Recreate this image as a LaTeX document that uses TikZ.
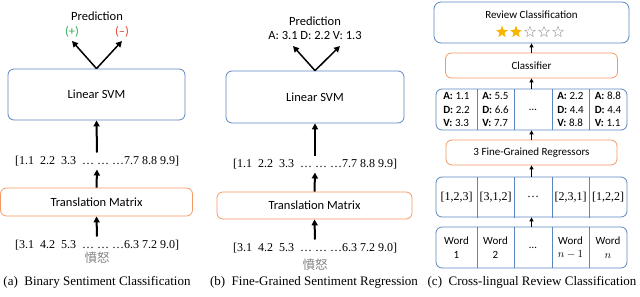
\documentclass[tikz,border=0pt]{standalone}
\usepackage{fontspec}
\setmainfont{Liberation Serif}
\newfontfamily\boxfont{Carlito}
\newfontfamily\cjkfont{Noto Sans CJK TC}
\usetikzlibrary{arrows.meta,positioning,shapes.geometric}
\definecolor{boxblue}{HTML}{5B86BD}
\definecolor{boxorange}{HTML}{F39A64}
\definecolor{posgreen}{HTML}{2DAE5A}
\definecolor{negred}{HTML}{E8412C}
\definecolor{stargold}{HTML}{F7B500}
\begin{document}
\begin{tikzpicture}[x=1pt,y=-1pt,
  font=\boxfont\fontsize{12.5}{14}\selectfont,
  bluebox/.style={draw=boxblue,rounded corners=6pt,line width=0.8pt},
  orangebox/.style={draw=boxorange,rounded corners=6pt,line width=0.8pt},
  vec/.style={font=\rmfamily\fontsize{12}{14}\selectfont},
  subcap/.style={font=\rmfamily\fontsize{13}{15}\selectfont},
  celltext/.style={font=\boxfont\fontsize{11}{13.5}\selectfont},
  cjk/.style={font=\cjkfont\fontsize{12.5}{14}\selectfont,text=gray},
  arr/.style={-{Triangle[length=6pt,width=6pt]},line width=2pt},
  parr/.style={-{Triangle[length=6pt,width=6pt]},line width=1.5pt},
  sarr/.style={-{Triangle[length=4pt,width=4pt]},line width=1.2pt}
]
\useasboundingbox (0,0) rectangle (640,297);

% (a) binary classification
\node[bluebox,minimum width=177,minimum height=51] (svmA) at (96.5,94.5) {Linear SVM};
\node (predA) at (97,16) {Prediction};
\node[text=posgreen] (posA) at (72,32) {(+)};
\node[text=negred] (negA) at (122,32) {(–)};
\draw[parr] (svmA.north) -- (posA.south);
\draw[parr] (svmA.north) -- (negA.south);
\node[vec] (vecA1) at (97,161) {[1.1\ \ 2.2\ \ 3.3\ \ … … …7.7 8.8 9.9]};
\node[orangebox,minimum width=192,minimum height=28] (transA) at (96.5,202) {Translation Matrix};
\node[vec] (vecA2) at (97,245) {[3.1\ \ 4.2\ \ 5.3\ \ … … …6.3 7.2 9.0]};
\node[cjk] (wordA) at (97,258) {憤怒};
\draw[arr] (vecA1.north) -- (svmA.south);
\draw[arr] (transA.north) -- (vecA1.south);
\draw[arr] (vecA2.north) -- (transA.south);
\node[subcap] (capA) at (97,282) {(a)\ \ Binary Sentiment Classification};

% (b) fine-grained regression
\node[bluebox,minimum width=178,minimum height=52] (svmB) at (315,97) {Linear SVM};
\node (predB) at (315,21) {Prediction};
\node (advB) at (315,35) {A: 3.1 D: 2.2 V: 1.3};
\coordinate (leftB) at (293,46);
\coordinate (rightB) at (340,46);
\draw[parr] (svmB.north) -- (leftB);
\draw[parr] (svmB.north) -- (rightB);
\node[vec] (vecB1) at (315,164) {[1.1\ \ 2.2\ \ 3.3\ \ … … …7.7 8.8 9.9]};
\node[orangebox,minimum width=195,minimum height=27] (transB) at (314.5,205.5) {Translation Matrix};
\node[vec] (vecB2) at (315,248) {[3.1\ \ 4.2\ \ 5.3\ \ … … …6.3 7.2 9.0]};
\node[cjk] (wordB) at (315,265) {憤怒};
\draw[arr] (vecB1.north) -- (svmB.south);
\draw[arr] (transB.north) -- (vecB1.south);
\draw[arr] (vecB2.north) -- (transB.south);
\node[subcap] (capB) at (314,282) {(b)\ \ Fine-Grained Sentiment Regression};

% (c) cross-lingual review classification
\node[bluebox,minimum width=195,minimum height=41,rounded corners=7pt] (review) at (531.5,22.5) {};
\node[celltext] (reviewT) at (531.5,15) {Review Classification};
\foreach \i/\f/\d in {1/stargold/stargold,2/stargold/stargold,3/white/gray!70,4/white/gray!70,5/white/gray!70}
  \node[star,star points=5,star point ratio=2.3,minimum size=11pt,inner sep=0pt,
        fill=\f,draw=\d,line width=0.5pt] (star\i) at (488+14*\i,32) {};
\node[orangebox,minimum width=172,minimum height=25,celltext] (clf) at (531.5,65.5) {Classifier};
\node[bluebox,minimum width=191,minimum height=41] (advrow) at (531.5,109.5) {};
\node[orangebox,minimum width=171,minimum height=25,celltext] (reg) at (531.5,152.5) {3 Fine-Grained Regressors};
\node[bluebox,minimum width=191,minimum height=40] (idrow) at (531.5,197) {};
\node[bluebox,minimum width=191,minimum height=41] (wordrow) at (531.5,247.5) {};
\foreach \y in {89,177,227}
  \foreach \x in {477,514,552,589}
    \draw[boxblue,line width=0.8pt] (\x,\y) -- (\x,\y+40.5);
\foreach \x/\a/\b/\c [count=\n] in {456.5/1.1/2.2/3.3,495.5/5.5/6.6/7.7,570.5/2.2/4.4/8.8,608/8.8/4.4/1.1}
  \node[celltext,align=left] (adv\n) at (\x,109.5) {\textbf{A:} \a\\\textbf{D:} \b\\\textbf{V:} \c};
\node[celltext] (advdots) at (533,109.5) {…};
\foreach \x/\t [count=\n] in {456.5/{[1,2,3]},495.5/{[3,1,2]},533/{…},570.5/{[2,3,1]},608/{[1,2,2]}}
  \node[font=\rmfamily\fontsize{12}{14}\selectfont] (id\n) at (\x,197) {\t};
\foreach \x/\t [count=\n] in {456.5/{Word\\1},495.5/{Word\\2},570.5/{Word\\$n-1$},608/{Word\\$n$}}
  \node[celltext,align=center] (word\n) at (\x,247.5) {\t};
\node[celltext] (worddots) at (533,247.5) {…};
\draw[sarr] (clf.north) -- (review.south);
\draw[sarr] (advrow.north) -- (clf.south);
\draw[sarr] (reg.north) -- (advrow.south);
\draw[sarr] (idrow.north) -- (reg.south);
\draw[sarr] (wordrow.north) -- (idrow.south);
\node[subcap] (capC) at (532,282) {(c)\ \ Cross-lingual Review Classification};
\end{tikzpicture}
\end{document}
